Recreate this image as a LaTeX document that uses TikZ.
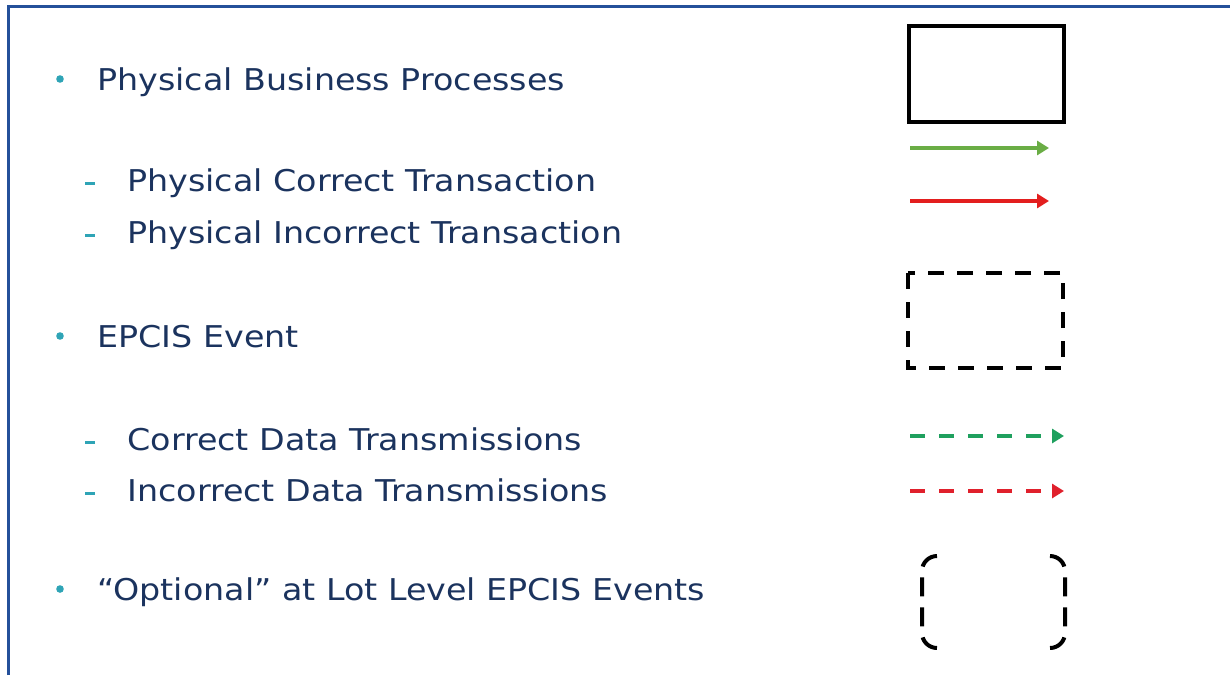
\documentclass[tikz,border=0pt]{standalone}
\usepackage{fontspec}
\setmainfont{DejaVu Sans}[FakeStretch=1.11]
\usepackage{xcolor}
\usepackage{tikz}
\usetikzlibrary{calc}
\usetikzlibrary{arrows.meta}
\tikzset{>={Triangle[length=6pt, width=7pt]}}

\definecolor{navy}{HTML}{1B335E}
\definecolor{bulletcol}{HTML}{2FA4B6}
\definecolor{frameblue}{HTML}{24509A}
\definecolor{solidgreen}{HTML}{6AAD45}
\definecolor{solidred}{HTML}{E31E1E}
\definecolor{dashgreen}{HTML}{1FA05E}
\definecolor{dashred}{HTML}{E0202C}

\tikzset{
	txt/.style={anchor=base west, inner sep=0pt, text=navy, font=\fontsize{15}{18}\selectfont},
	dashline/.style={line width=2pt, dash pattern=on 7.5pt off 7pt},
	bracket/.style={line width=2pt, draw=black, dash pattern=on 9.5pt off 5.5pt, rounded corners=7.5pt}
}

\begin{document}
\begin{tikzpicture}[x=0.5pt, y=-0.5pt]
	\useasboundingbox (0,0) rectangle (1230,675);
	
	% Cornice
	\draw[line width=1.5pt, draw=frameblue] (8,675) -- (8,6) -- (1230,6);
	
	% Punti
	\foreach \y/\n/\txt in {90/pbp/Physical Business Processes, 347/epc/EPCIS Event, 600/opt/“Optional” at Lot Level EPCIS Events}
	{
	\fill[bulletcol] (60,\y-11) circle (3.8);
	\node[txt] (\n) at (97,\y) {\txt};
	}
	
	% Sottopunti
	\foreach \y/\n/\txt in {191/pct/Physical Correct Transaction, 243/pit/Physical Incorrect Transaction, 450/cdt/Correct Data Transmissions, 501/idt/Incorrect Data Transmissions}
	{
	\draw[line width=1.5pt, draw=bulletcol] (85,\y-8) -- (95,\y-8);
	\node[txt] (\n) at (127,\y) {\txt};
	}
	
	% Processo
	\draw[line width=1.6pt, draw=black] (909,26) rectangle (1064,122);
	
	\coordinate[](ga) at (910,148);
	\coordinate[](gb) at (1049,148);
	\coordinate[](ra) at (910,201);
	\coordinate[](rb) at (1049,201);
	\draw[line width=1.8pt, draw=solidgreen, ->] (ga) -- (gb);
	\draw[line width=1.8pt, draw=solidred, ->] (ra) -- (rb);
	
	% Evento
	\draw[line width=2pt, draw=black, dash pattern=on 8pt off 6.5pt] (908,273) rectangle (1063,368);
	
	\coordinate[](gda) at (910,436);
	\coordinate[](gdb) at (1064,436);
	\coordinate[](rda) at (910,491);
	\coordinate[](rdb) at (1064,491);
	\draw[dashline, draw=dashgreen, ->] (gda) -- (gdb);
	\draw[dashline, draw=dashred, ->] (rda) -- (rdb);
	
	% Opzionale
	\draw[bracket] (937,556) -| (922,648) -- (937,648);
	\draw[bracket] (1050,556) -| (1065,648) -- (1050,648);
	
\end{tikzpicture}
\end{document}
